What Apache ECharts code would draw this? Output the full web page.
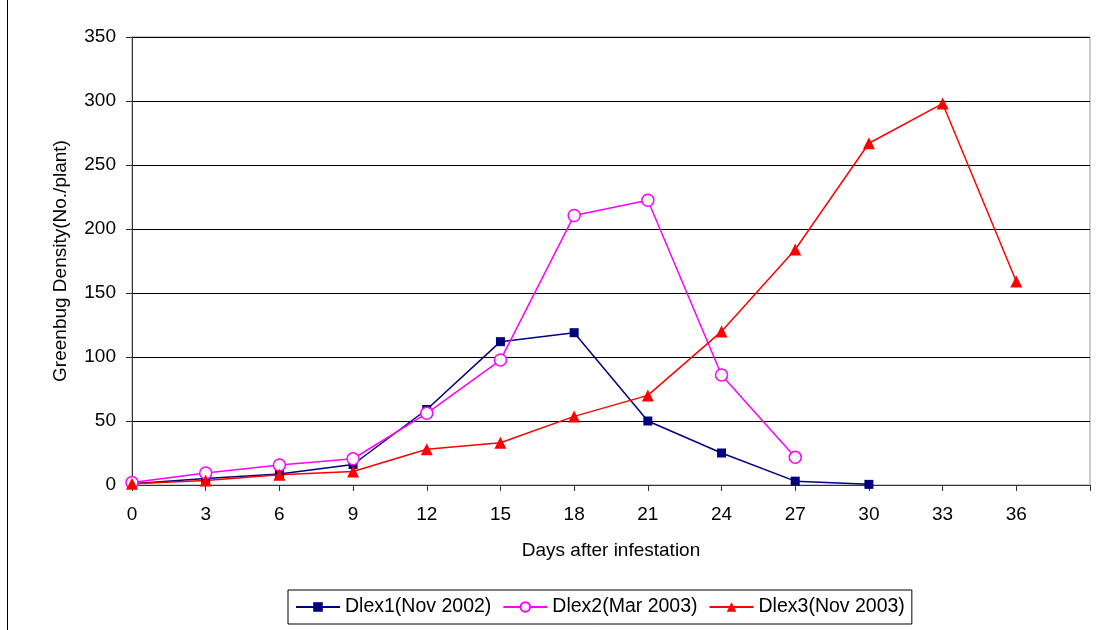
<!DOCTYPE html>
<html><head><meta charset="utf-8">
<script src="https://cdn.jsdelivr.net/npm/echarts@6/dist/echarts.min.js"></script>
<style>html,body{margin:0;padding:0;background:#fff}#c{width:1109px;height:630px}</style>
</head><body><div id="c"></div>
<script>
const days = [0,3,6,9,12,15,18,21,24,27,30,33,36];
const dlex1 = [1,5,8.6,16,59,112,119,50,25,3,0.5];
const dlex2 = [2,9.4,15.6,20.5,56,97.6,210.6,222.4,86,21.6];
const dlex3 = [1,3.6,8,10.6,28,33,53.6,70,120,184,267,298,159];
const names = ['Dlex1(Nov 2002)','Dlex2(Mar 2003)','Dlex3(Nov 2003)'];
const yTicks = [0,50,100,150,200,250,300,350];

function pairs(v){ return v.map((y,i)=>[days[i],y]); }
const font = 'Liberation Sans, Arial, sans-serif';
const chart = echarts.init(document.getElementById('c'));
chart.setOption({
  animation:false,
  backgroundColor:'#fff',
  grid:{left:132,right:19,top:37,bottom:145,show:true,borderColor:'#999',borderWidth:1},
  xAxis:{type:'value',min:0,max:39,interval:3,
    name:'Days after infestation',nameLocation:'middle',nameGap:56,
    nameTextStyle:{fontFamily:font,fontSize:19,color:'#000'},
    axisLine:{lineStyle:{color:'#333',width:1}},
    axisTick:{show:true,length:6,inside:false,lineStyle:{color:'#333'}},
    axisLabel:{fontFamily:font,fontSize:19,color:'#000',margin:20,formatter:v=>v>36?'':String(v)},
    splitLine:{show:false}},
  yAxis:{type:'value',min:0,max:350,interval:50,
    name:'Greenbug Density(No./plant)',nameLocation:'middle',nameGap:62,
    nameTextStyle:{fontFamily:font,fontSize:19,color:'#000'},
    axisLine:{show:true,lineStyle:{color:'#333',width:1}},
    axisTick:{show:true,length:6,lineStyle:{color:'#333'}},
    axisLabel:{fontFamily:font,fontSize:19,color:'#000',margin:16,formatter:v=>yTicks.includes(v)?String(v):''},
    splitLine:{show:true,lineStyle:{color:'#000',width:1}}},
  legend:{left:288,top:590,itemGap:11,padding:[7,7,7,7],
    borderColor:'#000',borderWidth:1,itemWidth:44,itemHeight:12,
    textStyle:{fontFamily:font,fontSize:19.5,color:'#000',padding:[0,0,0,0]},
    data:names},
  graphic:[{type:'line',shape:{x1:7.5,y1:0,x2:7.5,y2:630},style:{stroke:'#000',lineWidth:1}}],
  series:[
    {name:names[0],type:'line',data:pairs(dlex1),symbol:'rect',symbolSize:9,
      lineStyle:{color:'#000080',width:1.5},itemStyle:{color:'#000080'}},
    {name:names[1],type:'line',data:pairs(dlex2),symbol:'circle',symbolSize:12,
      lineStyle:{color:'#ff00ff',width:1.5},itemStyle:{color:'#fff',borderColor:'#ff00ff',borderWidth:1.5}},
    {name:names[2],type:'line',data:pairs(dlex3),symbol:'triangle',symbolSize:12,
      lineStyle:{color:'#ff0000',width:1.5},itemStyle:{color:'#ff0000'}}
  ]
});
</script></body></html>
